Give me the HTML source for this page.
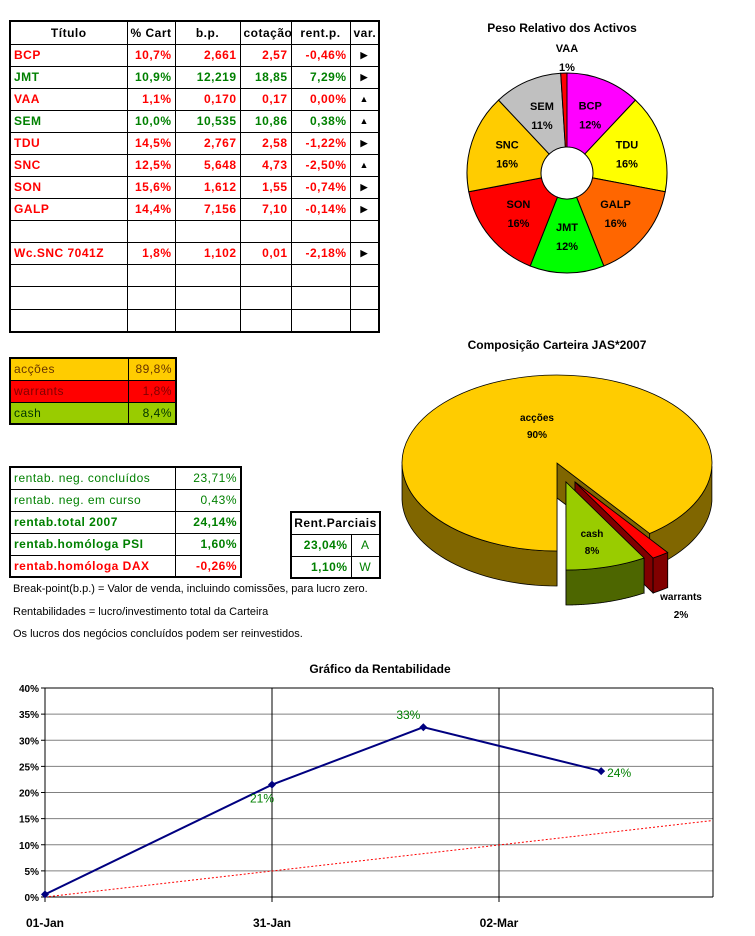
<!DOCTYPE html>
<html><head><meta charset="utf-8">
<style>
body{margin:0;background:#fff;}
#page{position:relative;width:755px;height:936px;overflow:hidden;font-family:"Liberation Sans",sans-serif;}
table{border-collapse:collapse;position:absolute;table-layout:fixed;}
td{border:1px solid #000;padding:0 3px;font-size:12px;font-weight:bold;white-space:nowrap;overflow:hidden;letter-spacing:0.5px;}
.r{color:#f00}.g{color:#008000}.num{text-align:right}
.hd td{text-align:center;color:#000}
.v{text-align:center;font-size:9px;color:#000}
.note{position:absolute;left:13px;font-size:11px;color:#000}
svg{position:absolute;left:0;top:0}
</style></head><body>
<div id="page">

<table style="left:9px;top:20px;width:371px;border:2px solid #000;">
<colgroup><col style="width:117px"><col style="width:48px"><col style="width:65px"><col style="width:51px"><col style="width:59px"><col style="width:29px"></colgroup>
<tr class="hd" style="height:23px"><td>Título</td><td>% Cart</td><td>b.p.</td><td>cotação</td><td>rent.p.</td><td>var.</td></tr>
<tr style="height:22px" class="r"><td>BCP</td><td class="num">10,7%</td><td class="num">2,661</td><td class="num">2,57</td><td class="num">-0,46%</td><td class="v">▶</td></tr>
<tr style="height:22px" class="g"><td>JMT</td><td class="num">10,9%</td><td class="num">12,219</td><td class="num">18,85</td><td class="num">7,29%</td><td class="v">▶</td></tr>
<tr style="height:22px" class="r"><td>VAA</td><td class="num">1,1%</td><td class="num">0,170</td><td class="num">0,17</td><td class="num">0,00%</td><td class="v">▲</td></tr>
<tr style="height:22px" class="g"><td>SEM</td><td class="num">10,0%</td><td class="num">10,535</td><td class="num">10,86</td><td class="num">0,38%</td><td class="v">▲</td></tr>
<tr style="height:22px" class="r"><td>TDU</td><td class="num">14,5%</td><td class="num">2,767</td><td class="num">2,58</td><td class="num">-1,22%</td><td class="v">▶</td></tr>
<tr style="height:22px" class="r"><td>SNC</td><td class="num">12,5%</td><td class="num">5,648</td><td class="num">4,73</td><td class="num">-2,50%</td><td class="v">▲</td></tr>
<tr style="height:22px" class="r"><td>SON</td><td class="num">15,6%</td><td class="num">1,612</td><td class="num">1,55</td><td class="num">-0,74%</td><td class="v">▶</td></tr>
<tr style="height:22px" class="r"><td>GALP</td><td class="num">14,4%</td><td class="num">7,156</td><td class="num">7,10</td><td class="num">-0,14%</td><td class="v">▶</td></tr>
<tr style="height:22px"><td></td><td></td><td></td><td></td><td></td><td></td></tr>
<tr style="height:22px" class="r"><td>Wc.SNC 7041Z</td><td class="num">1,8%</td><td class="num">1,102</td><td class="num">0,01</td><td class="num">-2,18%</td><td class="v">▶</td></tr>
<tr style="height:22px"><td></td><td></td><td></td><td></td><td></td><td></td></tr>
<tr style="height:23px"><td></td><td></td><td></td><td></td><td></td><td></td></tr>
<tr style="height:23px"><td></td><td></td><td></td><td></td><td></td><td></td></tr>
</table>

<table style="left:9px;top:357px;width:166px;border:2px solid #000;">
<colgroup><col style="width:118px"><col style="width:48px"></colgroup>
<tr style="height:22px;background:#ffcc00"><td style="font-weight:normal;color:#663300">acções</td><td class="num" style="font-weight:normal;color:#663300">89,8%</td></tr>
<tr style="height:22px;background:#ff0000"><td style="font-weight:normal;color:#800000">warrants</td><td class="num" style="font-weight:normal;color:#800000">1,8%</td></tr>
<tr style="height:22px;background:#99cc00"><td style="font-weight:normal;color:#003300">cash</td><td class="num" style="font-weight:normal;color:#003300">8,4%</td></tr>
</table>

<table style="left:9px;top:466px;width:231px;border:2px solid #000;">
<colgroup><col style="width:165px"><col style="width:66px"></colgroup>
<tr style="height:22px" class="g"><td style="font-weight:normal">rentab. neg. concluídos</td><td class="num" style="font-weight:normal">23,71%</td></tr>
<tr style="height:22px" class="g"><td style="font-weight:normal">rentab. neg. em curso</td><td class="num" style="font-weight:normal">0,43%</td></tr>
<tr style="height:22px" class="g"><td>rentab.total 2007</td><td class="num">24,14%</td></tr>
<tr style="height:22px" class="g"><td>rentab.homóloga PSI</td><td class="num">1,60%</td></tr>
<tr style="height:22px" class="r"><td>rentab.homóloga DAX</td><td class="num">-0,26%</td></tr>
</table>

<table style="left:290px;top:511px;width:89px;border:2px solid #000;">
<colgroup><col style="width:60px"><col style="width:29px"></colgroup>
<tr style="height:22px"><td colspan="2" style="text-align:center;padding:0">Rent.Parciais</td></tr>
<tr style="height:22px" class="g"><td class="num">23,04%</td><td style="text-align:center;font-weight:normal">A</td></tr>
<tr style="height:22px" class="g"><td class="num">1,10%</td><td style="text-align:center;font-weight:normal">W</td></tr>
</table>

<div class="note" style="top:583px">Break-point(b.p.) = Valor de venda, incluindo comissões, para lucro zero.</div>
<div class="note" style="top:606px">Rentabilidades = lucro/investimento total da Carteira</div>
<div class="note" style="top:628px">Os lucros dos negócios concluídos podem ser reinvestidos.</div>

<svg id="charts" width="755" height="936"></svg>
</div>
<script>
// ---- Donut data ----
const donutNames=["BCP","TDU","GALP","JMT","SON","SNC","SEM","VAA"];
const donutValues=[12,16,16,12,16,16,11,1];
const donutColors=["#ff00ff","#ffff00","#ff6600","#00ff00","#ff0000","#ffcc00","#c0c0c0","#ff0000"];
// ---- 3D pie data ----
const compNames=["acções","warrants","cash"];
const compValues=[89.8,1.8,8.4];
// ---- Line chart data ----
const lineDays=[0,30,50,73.5];
const lineValues=[0.5,21.5,32.5,24.1];
const lineLabels=["","21%","33%","24%"];
const trendDays=[0,88];
const trendValues=[0,14.6];
const yTicks=[0,5,10,15,20,25,30,35,40];
const xTickDays=[0,30,60];
const xTickLabels=["01-Jan","31-Jan","02-Mar"];

const NS="http://www.w3.org/2000/svg";
const svg=document.getElementById('charts');
function mk(tag,attrs,parent){const e=document.createElementNS(NS,tag);for(const k in attrs)e.setAttribute(k,attrs[k]);(parent||svg).appendChild(e);return e;}
function txt(x,y,s,attrs){const t=mk('text',Object.assign({x:x,y:y,'font-family':'Liberation Sans, sans-serif','font-size':11,'font-weight':'bold','text-anchor':'middle'},attrs||{}));t.textContent=s;return t;}

// Donut
(function(){
 const cx=567,cy=173,R=100,r=26;
 let t=txt(562,32,"Peso Relativo dos Activos",{'font-size':12});
 
 const tot=donutValues.reduce((a,b)=>a+b,0);
 let a=0;
 donutValues.forEach((v,i)=>{
  const a0=a,a1=a+v/tot*2*Math.PI;a=a1;
  const p=(ang,rr)=>[cx+rr*Math.sin(ang),cy-rr*Math.cos(ang)];
  const [x0,y0]=p(a0,R),[x1,y1]=p(a1,R),[x2,y2]=p(a1,r),[x3,y3]=p(a0,r);
  const lg=(a1-a0)>Math.PI?1:0;
  const path=mk('path',{d:`M${x0},${y0}A${R},${R} 0 ${lg} 1 ${x1},${y1}L${x2},${y2}A${r},${r} 0 ${lg} 0 ${x3},${y3}Z`,fill:donutColors[i],stroke:'#000','stroke-width':1});
  
  
  const mid=(a0+a1)/2;
  const pct=Math.round(v/tot*100)+"%";
  let lx,ly;
  if(v/tot<0.03){lx=cx;ly=cy-R-25;}else{[lx,ly]=p(mid,63);ly-=9;}
  const l1=txt(lx,ly+4,donutNames[i]);
  
  
  const l2=txt(lx,ly+23,pct);
  
  
 });
})();

// 3D pie
(function(){
 const cx=557,cy=463,rx=155,ry=88,D=35;
 let t=txt(557,349,"Composição Carteira JAS*2007",{'font-size':12});
 
 const tot=compValues.reduce((a,b)=>a+b,0);
 const tops=["#ffcc00","#ff0000","#99cc00"],sides=["#806600","#800000","#4d6600"];
 const offs=[[0,0],[18,19],[9,19]];
 const keys=['accoes','warrants','cash'];
 let start=Math.PI/2;
 const slices=[];
 compValues.forEach((v,i)=>{const sweep=v/tot*2*Math.PI;slices.push([start,start+sweep,i]);start+=sweep;});
 [0,1,2].forEach(j=>{
  const [t0,t1,i]=slices[j];
  const ox=cx+offs[i][0],oy=cy+offs[i][1];
  const g=mk('g',{});
  
  
  const P=(a)=>[ox+rx*Math.cos(a),oy+ry*Math.sin(a)];
  [t0,t1].forEach(a=>{const [x,y]=P(a);mk('path',{d:`M${ox},${oy}L${x},${y}L${x},${y+D}L${ox},${oy+D}Z`,fill:sides[i],stroke:'#000','stroke-width':0.8},g);});
  const N=120;let segs=[],cur=[];
  for(let k=0;k<=N;k++){const a=t0+(t1-t0)*k/N;if(Math.sin(a)>=-0.001){cur.push(P(a));}else{if(cur.length>1)segs.push(cur);cur=[];}}
  if(cur.length>1)segs.push(cur);
  segs.forEach(s=>{let d='M'+s.map(p=>p[0]+','+p[1]).join('L');d+='L'+s.slice().reverse().map(p=>p[0]+','+(p[1]+D)).join('L')+'Z';mk('path',{d:d,fill:sides[i],stroke:'#000','stroke-width':0.8},g);});
  const [x0,y0]=P(t0),[x1,y1]=P(t1);const lg=(t1-t0)>Math.PI?1:0;
  mk('path',{d:`M${ox},${oy}L${x0},${y0}A${rx},${ry} 0 ${lg} 1 ${x1},${y1}Z`,fill:tops[i],stroke:'#000','stroke-width':0.8},g);
 });
 const labs=[[537,421,537,438],[681,600,681,618],[592,537,592,554]];
 compValues.forEach((v,i)=>{
  const a=txt(labs[i][0],labs[i][1],compNames[i],{'font-size':10});
  
  const b=txt(labs[i][2],labs[i][3],Math.round(v)+"%",{'font-size':10});
  
 });
})();

// Line chart
(function(){
 const L=45,Rt=713,T=688,B=897;
 const xs=d=>L+d*(272-L)/30;
 const ys=v=>B-v*(B-T)/40;
 let t=txt(380,673,"Gráfico da Rentabilidade",{'font-size':12});
 
 yTicks.forEach(v=>{
  const gl=mk('line',{x1:L,x2:Rt,y1:ys(v),y2:ys(v),stroke:v==0||v==40?'#000':'#808080','stroke-width':1});
  
  mk('line',{x1:L-4,x2:L,y1:ys(v),y2:ys(v),stroke:'#000'});
  const l=txt(L-6,ys(v)+4,v+"%",{'text-anchor':'end','font-size':10});
  
 });
 mk('line',{x1:L,x2:L,y1:T,y2:B,stroke:'#000'});
 mk('line',{x1:Rt,x2:Rt,y1:T,y2:B,stroke:'#000'});
 xTickDays.forEach((d,i)=>{
  if(d>0){const vl=mk('line',{x1:xs(d),x2:xs(d),y1:T,y2:B,stroke:'#000'});}
  mk('line',{x1:xs(d),x2:xs(d),y1:B,y2:B+5,stroke:'#000'});
  const l=txt(xs(d),927,xTickLabels[i],{'font-size':12});
  
 });
 const tr=mk('polyline',{points:trendDays.map((d,i)=>xs(d)+','+ys(trendValues[i])).join(' '),fill:'none',stroke:'#ff0000','stroke-width':1,'stroke-dasharray':'2,2'});
 
 const pl=mk('polyline',{points:lineDays.map((d,i)=>xs(d)+','+ys(lineValues[i])).join(' '),fill:'none',stroke:'#000080','stroke-width':2});
 
 const offs=[[0,0],[-10,18],[-15,-8],[18,6]];
 lineDays.forEach((d,i)=>{
  const x=xs(d),y=ys(lineValues[i]);
  const m=mk('path',{d:`M${x},${y-4}L${x+4},${y}L${x},${y+4}L${x-4},${y}Z`,fill:'#000080'});
  
  if(lineLabels[i]){const l=txt(x+offs[i][0],y+offs[i][1],lineLabels[i],{'font-weight':'normal','font-size':12,fill:'#008000'});
   }
 });
})();
</script>
</body></html>
